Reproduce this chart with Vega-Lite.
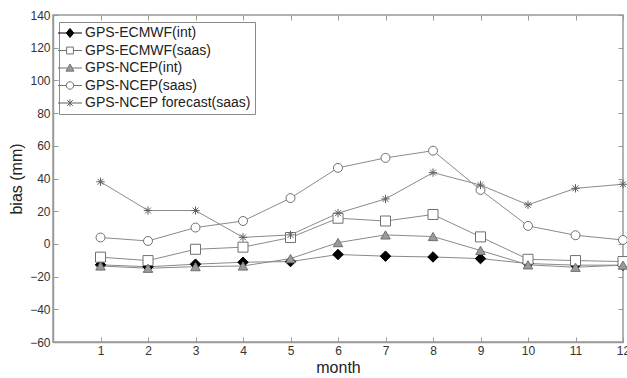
{
  "$schema": "https://vega.github.io/schema/vega-lite/v6.json",
  "width": 570,
  "height": 327,
  "autosize": {"type": "none"},
  "padding": {"left": 53, "top": 15, "right": 4, "bottom": 36},
  "background": "white",
  "config": {
    "view": {"stroke": "#9a9a9a", "strokeWidth": 1.5},
    "font": "Liberation Sans",
    "axis": {
      "domainColor": "#9a9a9a", "domainWidth": 1.5, "tickColor": "#9a9a9a", "tickWidth": 1,
      "labelFont": "Liberation Sans", "labelFontSize": 12, "labelColor": "#333", "labelFlush": false,
      "titleFont": "Liberation Sans", "titleFontSize": 16, "titleFontWeight": "normal", "titleColor": "#222",
      "grid": false
    }
  },
  "data": {
    "values": [
      {"month": 1, "series": "GPS-ECMWF(int)", "bias": -12.8},
      {"month": 2, "series": "GPS-ECMWF(int)", "bias": -14},
      {"month": 3, "series": "GPS-ECMWF(int)", "bias": -12.4},
      {"month": 4, "series": "GPS-ECMWF(int)", "bias": -11.2},
      {"month": 5, "series": "GPS-ECMWF(int)", "bias": -10.8},
      {"month": 6, "series": "GPS-ECMWF(int)", "bias": -6.5},
      {"month": 7, "series": "GPS-ECMWF(int)", "bias": -7.5},
      {"month": 8, "series": "GPS-ECMWF(int)", "bias": -8},
      {"month": 9, "series": "GPS-ECMWF(int)", "bias": -9},
      {"month": 10, "series": "GPS-ECMWF(int)", "bias": -12},
      {"month": 11, "series": "GPS-ECMWF(int)", "bias": -13},
      {"month": 12, "series": "GPS-ECMWF(int)", "bias": -13},
      {"month": 1, "series": "GPS-ECMWF(saas)", "bias": -8.1},
      {"month": 2, "series": "GPS-ECMWF(saas)", "bias": -10.2},
      {"month": 3, "series": "GPS-ECMWF(saas)", "bias": -3.3},
      {"month": 4, "series": "GPS-ECMWF(saas)", "bias": -2},
      {"month": 5, "series": "GPS-ECMWF(saas)", "bias": 3.9},
      {"month": 6, "series": "GPS-ECMWF(saas)", "bias": 15.7},
      {"month": 7, "series": "GPS-ECMWF(saas)", "bias": 14},
      {"month": 8, "series": "GPS-ECMWF(saas)", "bias": 18},
      {"month": 9, "series": "GPS-ECMWF(saas)", "bias": 4.3},
      {"month": 10, "series": "GPS-ECMWF(saas)", "bias": -9.4},
      {"month": 11, "series": "GPS-ECMWF(saas)", "bias": -10.2},
      {"month": 12, "series": "GPS-ECMWF(saas)", "bias": -10.8},
      {"month": 1, "series": "GPS-NCEP(int)", "bias": -13.5},
      {"month": 2, "series": "GPS-NCEP(int)", "bias": -14.9},
      {"month": 3, "series": "GPS-NCEP(int)", "bias": -13.9},
      {"month": 4, "series": "GPS-NCEP(int)", "bias": -13.5},
      {"month": 5, "series": "GPS-NCEP(int)", "bias": -9},
      {"month": 6, "series": "GPS-NCEP(int)", "bias": 0.8},
      {"month": 7, "series": "GPS-NCEP(int)", "bias": 5.5},
      {"month": 8, "series": "GPS-NCEP(int)", "bias": 4.5},
      {"month": 9, "series": "GPS-NCEP(int)", "bias": -4},
      {"month": 10, "series": "GPS-NCEP(int)", "bias": -12.8},
      {"month": 11, "series": "GPS-NCEP(int)", "bias": -14.3},
      {"month": 12, "series": "GPS-NCEP(int)", "bias": -13},
      {"month": 1, "series": "GPS-NCEP(saas)", "bias": 3.9},
      {"month": 2, "series": "GPS-NCEP(saas)", "bias": 1.8},
      {"month": 3, "series": "GPS-NCEP(saas)", "bias": 10},
      {"month": 4, "series": "GPS-NCEP(saas)", "bias": 14},
      {"month": 5, "series": "GPS-NCEP(saas)", "bias": 28},
      {"month": 6, "series": "GPS-NCEP(saas)", "bias": 46.5},
      {"month": 7, "series": "GPS-NCEP(saas)", "bias": 52.6},
      {"month": 8, "series": "GPS-NCEP(saas)", "bias": 57},
      {"month": 9, "series": "GPS-NCEP(saas)", "bias": 33},
      {"month": 10, "series": "GPS-NCEP(saas)", "bias": 11},
      {"month": 11, "series": "GPS-NCEP(saas)", "bias": 5.3},
      {"month": 12, "series": "GPS-NCEP(saas)", "bias": 2.4},
      {"month": 1, "series": "GPS-NCEP forecast(saas)", "bias": 38},
      {"month": 2, "series": "GPS-NCEP forecast(saas)", "bias": 20.4},
      {"month": 3, "series": "GPS-NCEP forecast(saas)", "bias": 20.4},
      {"month": 4, "series": "GPS-NCEP forecast(saas)", "bias": 4},
      {"month": 5, "series": "GPS-NCEP forecast(saas)", "bias": 5.5},
      {"month": 6, "series": "GPS-NCEP forecast(saas)", "bias": 18.8},
      {"month": 7, "series": "GPS-NCEP forecast(saas)", "bias": 27.5},
      {"month": 8, "series": "GPS-NCEP forecast(saas)", "bias": 43.6},
      {"month": 9, "series": "GPS-NCEP forecast(saas)", "bias": 36},
      {"month": 10, "series": "GPS-NCEP forecast(saas)", "bias": 23.9},
      {"month": 11, "series": "GPS-NCEP forecast(saas)", "bias": 34},
      {"month": 12, "series": "GPS-NCEP forecast(saas)", "bias": 36.5}
    ]
  },
  "layer": [
    {
      "mark": {"type": "line", "color": "#8a8a8a", "strokeWidth": 1},
      "encoding": {
        "x": {"field": "month", "type": "quantitative", "scale": {"domain": [0, 12], "nice": false, "zero": false},
              "axis": {"orient": "bottom", "title": "month", "values": [1,2,3,4,5,6,7,8,9,10,11,12], "tickSize": -5, "labelPadding": 8, "titlePadding": 3, "labelFlush": false}},
        "y": {"field": "bias", "type": "quantitative", "scale": {"domain": [-60, 140], "nice": false, "zero": false},
              "axis": {"orient": "left", "title": "bias (mm)", "values": [-60,-40,-20,0,20,40,60,80,100,120,140], "tickSize": -5, "labelPadding": 8, "titlePadding": 5, "labelFlush": false}},
        "detail": {"field": "series", "type": "nominal"}
      }
    },
    {
      "mark": {"type": "point", "filled": false, "strokeWidth": 1, "opacity": 1},
      "encoding": {
        "x": {"field": "month", "type": "quantitative", "axis": null},
        "y": {"field": "bias", "type": "quantitative", "axis": null},
        "shape": {"field": "series", "type": "nominal", "legend": null,
          "scale": {"domain": ["GPS-ECMWF(int)", "GPS-ECMWF(saas)", "GPS-NCEP(int)", "GPS-NCEP(saas)", "GPS-NCEP forecast(saas)"],
                    "range": ["diamond", "square", "triangle-up", "circle", "M-1,0L1,0M0,-1L0,1M-0.7,-0.7L0.7,0.7M-0.7,0.7L0.7,-0.7"]}},
        "fill": {"field": "series", "type": "nominal", "legend": null,
          "scale": {"domain": ["GPS-ECMWF(int)", "GPS-ECMWF(saas)", "GPS-NCEP(int)", "GPS-NCEP(saas)", "GPS-NCEP forecast(saas)"],
                    "range": ["#000000", "#ffffff", "#9a9a9a", "#ffffff", "transparent"]}},
        "stroke": {"field": "series", "type": "nominal", "legend": null,
          "scale": {"domain": ["GPS-ECMWF(int)", "GPS-ECMWF(saas)", "GPS-NCEP(int)", "GPS-NCEP(saas)", "GPS-NCEP forecast(saas)"],
                    "range": ["#000000", "#707070", "#707070", "#707070", "#606060"]}},
        "size": {"field": "series", "type": "nominal", "legend": null,
          "scale": {"domain": ["GPS-ECMWF(int)", "GPS-ECMWF(saas)", "GPS-NCEP(int)", "GPS-NCEP(saas)", "GPS-NCEP forecast(saas)"],
                    "range": [110, 70, 110, 100, 100]}}
      }
    },
    {
      "transform": [{"filter": "datum.month > 100"}],
      "mark": {"type": "point", "filled": false, "strokeWidth": 1, "opacity": 1},
      "encoding": {
        "x": {"field": "month", "type": "quantitative", "axis": null},
        "y": {"field": "bias", "type": "quantitative", "axis": null},
        "shape": {"field": "series", "type": "nominal",
          "scale": {"domain": ["GPS-ECMWF(int)", "GPS-ECMWF(saas)", "GPS-NCEP(int)", "GPS-NCEP(saas)", "GPS-NCEP forecast(saas)"],
                    "range": [
                      "M-2.1,0L-0.65,0M0.65,0L2.1,0M0,-0.8L0.65,0L0,0.8L-0.65,0Z",
                      "M-2.1,0L-0.6,0M0.6,0L2.1,0M-0.6,-0.6L0.6,-0.6L0.6,0.6L-0.6,0.6Z",
                      "M-2.1,0L-0.39,0M0.39,0L2.1,0M0,-0.7L0.7,0.55L-0.7,0.55Z",
                      "M-2.1,0L-0.65,0M0.65,0L2.1,0M0.65,0A0.65,0.65,0,1,1,-0.65,0A0.65,0.65,0,1,1,0.65,0Z",
                      "M-2.1,0L2.1,0M0,-0.65L0,0.65M-0.5,-0.5L0.5,0.5M-0.5,0.5L0.5,-0.5"
                    ]},
          "legend": {"orient": "none", "legendX": 6, "legendY": 7, "title": null, "strokeColor": "#8a8a8a", "fillColor": "white",
                     "padding": 4, "rowPadding": 3.5, "symbolSize": 130, "labelFont": "Liberation Sans", "labelFontSize": 14,
                     "labelColor": "#222", "labelOffset": 8, "symbolStrokeWidth": 1, "labelLimit": 300}},
        "fill": {"field": "series", "type": "nominal",
          "scale": {"domain": ["GPS-ECMWF(int)", "GPS-ECMWF(saas)", "GPS-NCEP(int)", "GPS-NCEP(saas)", "GPS-NCEP forecast(saas)"],
                    "range": ["#000000", "#ffffff", "#9a9a9a", "#ffffff", "transparent"]}},
        "stroke": {"field": "series", "type": "nominal",
          "scale": {"domain": ["GPS-ECMWF(int)", "GPS-ECMWF(saas)", "GPS-NCEP(int)", "GPS-NCEP(saas)", "GPS-NCEP forecast(saas)"],
                    "range": ["#000000", "#707070", "#707070", "#707070", "#606060"]}}
      }
    },
    {
      "mark": {"type": "point", "opacity": 0},
      "encoding": {
        "x": {"field": "month", "type": "quantitative",
              "axis": {"orient": "top", "title": null, "labels": false, "domain": false, "values": [1,2,3,4,5,6,7,8,9,10,11,12], "tickSize": -5}},
        "y": {"field": "bias", "type": "quantitative",
              "axis": {"orient": "right", "title": null, "labels": false, "domain": false, "values": [-60,-40,-20,0,20,40,60,80,100,120,140], "tickSize": -5}}
      }
    }
  ],
  "resolve": {
    "scale": {"shape": "independent", "fill": "independent", "stroke": "independent"},
    "axis": {"x": "independent", "y": "independent"}
  }
}
